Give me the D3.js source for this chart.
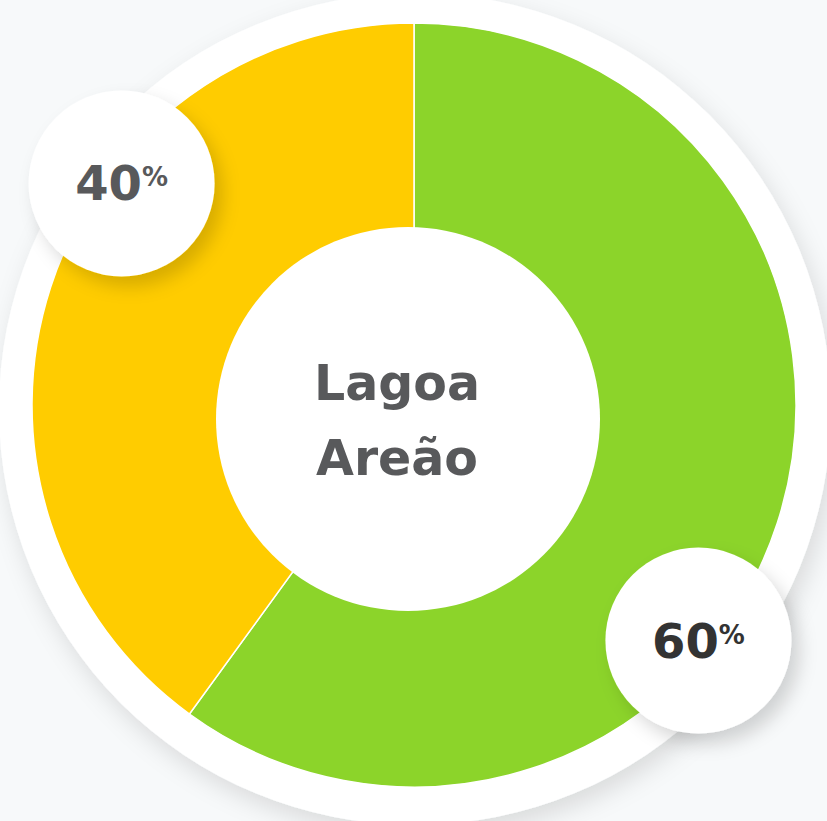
<!DOCTYPE html>
<meta charset="utf-8">
<style>
  body { margin: 0; background: #f7f9fa; }
  svg { display: block; }
  .centerText { font: bold 49px "DejaVu Sans", sans-serif; fill: #58595b; }
  .pct { font-family: "DejaVu Sans", sans-serif; font-weight: bold; }
</style>
<body>
<script src="https://d3js.org/d3.v7.min.js"></script>
<script>
// data
var labels = ["Verde", "Amarelo"];
var values = [60, 40];
var colors = ["#8cd42a", "#ffcc00"];
var textColors = ["#333333", "#58595b"];
var title = ["Lagoa", "Areão"];

var width = 827, height = 821;
var cx = 414, cy = 405;
var outerR = 382;

var svg = d3.select("body").append("svg")
    .attr("width", width)
    .attr("height", height);

var defs = svg.append("defs");

// soft shadow for the big white disc
var f1 = defs.append("filter").attr("id", "bigShadow")
    .attr("x", "-20%").attr("y", "-20%").attr("width", "140%").attr("height", "140%");
f1.append("feDropShadow")
    .attr("dx", 5).attr("dy", 10).attr("stdDeviation", 12)
    .attr("flood-color", "#000").attr("flood-opacity", 0.12);

// shadow for the badges
var f2 = defs.append("filter").attr("id", "badgeShadow")
    .attr("x", "-40%").attr("y", "-40%").attr("width", "180%").attr("height", "180%");
f2.append("feDropShadow")
    .attr("dx", 8).attr("dy", 10).attr("stdDeviation", 9)
    .attr("flood-color", "#000").attr("flood-opacity", 0.16);

// big white disc behind the ring
svg.append("circle")
    .attr("cx", cx + 1)
    .attr("cy", cy + 4)
    .attr("r", 416)
    .attr("fill", "#fff")
    .attr("filter", "url(#bigShadow)");

var pie = d3.pie().sort(null).value(function(d) { return d; });
var arcs = pie(values);

var arc = d3.arc().innerRadius(0).outerRadius(outerR);

var g = svg.append("g")
    .attr("transform", "translate(" + cx + "," + cy + ")");

g.selectAll(".slice")
    .data(arcs)
    .enter().append("path")
    .attr("class", "slice")
    .attr("d", arc)
    .attr("fill", function(d, i) { return colors[i]; })
    .attr("stroke", "#fff")
    .attr("stroke-width", 1.5);

// white hole (slightly off the ring centre, as in the original)
svg.append("circle")
    .attr("cx", 408)
    .attr("cy", 419)
    .attr("r", 192)
    .attr("fill", "#fff");

// centre title
var t = svg.append("text")
    .attr("class", "centerText")
    .attr("x", 397)
    .attr("text-anchor", "middle");
t.append("tspan").attr("x", 397).attr("y", 400).text(title[0]);
t.append("tspan").attr("x", 397).attr("y", 475).text(title[1]);

// badges, placed a bit past each slice's mid angle
var bx = 410, by = 412;
var badgeR = 368, badgeSize = 93, offset = 20.4 * Math.PI / 180;
var badges = svg.selectAll(".badge")
    .data(arcs)
    .enter().append("g")
    .attr("class", "badge")
    .attr("transform", function(d) {
      var a = (d.startAngle + d.endAngle) / 2 + offset;
      return "translate(" + (bx + badgeR * Math.sin(a)) + "," + (by - badgeR * Math.cos(a)) + ")";
    });

badges.append("circle")
    .attr("r", badgeSize)
    .attr("fill", "#fff")
    .attr("filter", "url(#badgeShadow)");

var bt = badges.append("text")
    .attr("class", "pct")
    .attr("text-anchor", "middle")
    .attr("x", 0)
    .attr("y", 17)
    .attr("fill", function(d, i) { return textColors[i]; });
bt.append("tspan")
    .attr("font-size", 48)
    .text(function(d) { return d.data; });
bt.append("tspan")
    .attr("font-size", 26)
    .attr("dy", -14)
    .text("%");
</script>
</body>
